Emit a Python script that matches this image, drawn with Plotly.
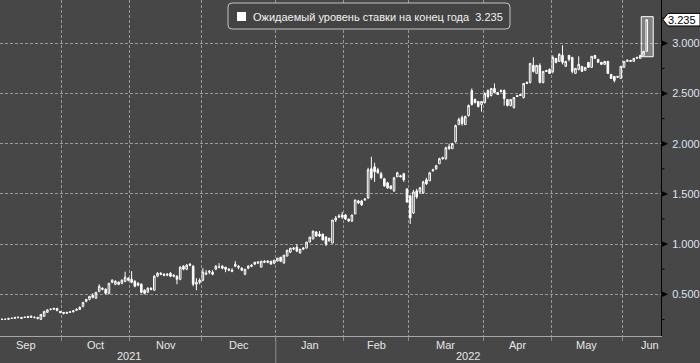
import numpy as np
import pandas as pd
import plotly.graph_objects as go

# ---------------- data ----------------
opens = [0.25, 0.25, 0.25, 0.25, 0.26, 0.26, 0.27, 0.27, 0.27, 0.28, 0.27, 0.27, 0.27, 0.25, 0.28, 0.32, 0.35, 0.35, 0.36, 0.33,
         0.32, 0.31, 0.32, 0.325, 0.34, 0.35, 0.38, 0.43, 0.45, 0.49, 0.46, 0.53, 0.56, 0.55, 0.51, 0.62, 0.60, 0.62, 0.61, 0.63,
         0.66, 0.65, 0.63, 0.61, 0.60, 0.54, 0.52, 0.56, 0.54, 0.68, 0.71, 0.70, 0.69, 0.71, 0.69, 0.68, 0.65, 0.78, 0.75, 0.80,
         0.78, 0.60, 0.62, 0.64, 0.70, 0.72, 0.72, 0.75, 0.77, 0.78, 0.77, 0.75, 0.74, 0.78, 0.78, 0.76, 0.70, 0.76, 0.79, 0.80,
         0.81, 0.77, 0.83, 0.83, 0.83, 0.81, 0.83, 0.87, 0.81, 0.88, 0.92, 0.95, 0.97, 0.91, 0.95, 0.96, 1.02, 1.05, 1.12, 1.10,
         1.10, 1.07, 1.03, 1.01, 1.24, 1.28, 1.29, 1.29, 1.25, 1.23, 1.30, 1.43, 1.43, 1.44, 1.46, 1.75, 1.77, 1.74, 1.70, 1.65,
         1.61, 1.58, 1.53, 1.67, 1.68, 1.70, 1.55, 1.48, 1.31, 1.53, 1.52, 1.51, 1.64, 1.63, 1.73, 1.75, 1.80, 1.85, 1.85, 1.97,
         1.95, 2.02, 2.19, 2.26, 2.19, 2.28, 2.53, 2.44, 2.42, 2.39, 2.41, 2.53, 2.48, 2.55, 2.51, 2.52, 2.53, 2.44, 2.38, 2.36,
         2.48, 2.49, 2.46, 2.61, 2.61, 2.78, 2.70, 2.78, 2.61, 2.73, 2.74, 2.72, 2.85, 2.82, 2.88, 2.77, 2.88, 2.86, 2.70, 2.74,
         2.77, 2.73, 2.81, 2.76, 2.88, 2.84, 2.81, 2.79, 2.82, 2.69, 2.67, 2.66, 2.65, 2.76, 2.82, 2.83, 2.82, 2.85, 2.85, 2.88,
         2.92]
highs = [0.26, 0.26, 0.26, 0.26, 0.27, 0.27, 0.28, 0.27, 0.28, 0.28, 0.29, 0.28, 0.27, 0.30, 0.33, 0.35, 0.36, 0.36, 0.36, 0.33,
         0.32, 0.32, 0.33, 0.34, 0.36, 0.38, 0.42, 0.45, 0.48, 0.51, 0.52, 0.60, 0.57, 0.56, 0.61, 0.65, 0.64, 0.63, 0.65, 0.725,
         0.67, 0.73, 0.64, 0.62, 0.61, 0.55, 0.57, 0.57, 0.69, 0.72, 0.72, 0.71, 0.71, 0.72, 0.70, 0.69, 0.78, 0.79, 0.80, 0.81,
         0.79, 0.66, 0.66, 0.76, 0.74, 0.74, 0.74, 0.79, 0.81, 0.79, 0.77, 0.76, 0.76, 0.83, 0.79, 0.77, 0.75, 0.79, 0.80, 0.82,
         0.83, 0.83, 0.84, 0.84, 0.83, 0.84, 0.86, 0.87, 0.89, 0.94, 0.96, 0.97, 1.00, 0.95, 0.97, 1.02, 1.07, 1.13, 1.13, 1.13,
         1.10, 1.08, 1.06, 1.24, 1.28, 1.30, 1.32, 1.30, 1.25, 1.29, 1.44, 1.44, 1.44, 1.45, 1.76, 1.87, 1.81, 1.76, 1.72, 1.66,
         1.62, 1.58, 1.67, 1.72, 1.69, 1.71, 1.55, 1.49, 1.54, 1.55, 1.57, 1.63, 1.66, 1.72, 1.75, 1.79, 1.86, 1.87, 1.97, 2.00,
         2.01, 2.19, 2.26, 2.28, 2.28, 2.39, 2.55, 2.45, 2.42, 2.42, 2.51, 2.54, 2.55, 2.60, 2.51, 2.54, 2.54, 2.44, 2.44, 2.46,
         2.48, 2.49, 2.60, 2.62, 2.80, 2.86, 2.78, 2.80, 2.72, 2.73, 2.75, 2.88, 2.85, 2.90, 2.98, 2.82, 2.88, 2.86, 2.75, 2.87,
         2.77, 2.76, 2.81, 2.87, 2.88, 2.84, 2.81, 2.82, 2.82, 2.69, 2.67, 2.67, 2.77, 2.82, 2.84, 2.83, 2.85, 2.86, 2.88, 2.92,
         3.235]
lows = [0.25, 0.25, 0.25, 0.25, 0.26, 0.26, 0.26, 0.26, 0.27, 0.27, 0.27, 0.26, 0.25, 0.25, 0.28, 0.32, 0.34, 0.35, 0.33, 0.31,
        0.30, 0.31, 0.32, 0.32, 0.34, 0.35, 0.37, 0.42, 0.44, 0.46, 0.46, 0.52, 0.54, 0.50, 0.50, 0.61, 0.59, 0.59, 0.60, 0.62,
        0.63, 0.61, 0.57, 0.58, 0.51, 0.50, 0.52, 0.54, 0.54, 0.67, 0.69, 0.68, 0.68, 0.67, 0.67, 0.60, 0.64, 0.74, 0.74, 0.78,
        0.58, 0.54, 0.60, 0.63, 0.69, 0.70, 0.69, 0.74, 0.76, 0.75, 0.72, 0.73, 0.72, 0.77, 0.75, 0.73, 0.69, 0.75, 0.77, 0.79,
        0.80, 0.77, 0.81, 0.81, 0.80, 0.80, 0.83, 0.82, 0.81, 0.88, 0.91, 0.94, 0.92, 0.91, 0.94, 0.96, 1.02, 1.05, 1.07, 1.07,
        1.04, 0.98, 1.03, 1.01, 1.22, 1.26, 1.25, 1.24, 1.22, 1.22, 1.30, 1.40, 1.38, 1.43, 1.45, 1.64, 1.62, 1.70, 1.65, 1.57,
        1.55, 1.55, 1.52, 1.67, 1.67, 1.62, 1.41, 1.20, 1.30, 1.45, 1.50, 1.50, 1.59, 1.63, 1.72, 1.74, 1.80, 1.84, 1.84, 1.94,
        1.95, 2.01, 2.19, 2.18, 2.19, 2.27, 2.38, 2.40, 2.36, 2.32, 2.40, 2.45, 2.47, 2.50, 2.49, 2.51, 2.38, 2.37, 2.37, 2.35,
        2.47, 2.48, 2.45, 2.60, 2.60, 2.71, 2.70, 2.60, 2.60, 2.72, 2.70, 2.70, 2.80, 2.82, 2.79, 2.77, 2.82, 2.70, 2.70, 2.73,
        2.72, 2.73, 2.76, 2.76, 2.85, 2.81, 2.79, 2.79, 2.70, 2.65, 2.61, 2.66, 2.65, 2.76, 2.82, 2.82, 2.82, 2.85, 2.85, 2.88,
        2.92]
closes = [0.25, 0.25, 0.25, 0.26, 0.26, 0.27, 0.27, 0.26, 0.27, 0.27, 0.28, 0.27, 0.26, 0.30, 0.33, 0.345, 0.35, 0.36, 0.34, 0.32,
          0.31, 0.32, 0.325, 0.335, 0.35, 0.37, 0.42, 0.45, 0.48, 0.47, 0.52, 0.58, 0.55, 0.51, 0.61, 0.64, 0.63, 0.60, 0.64, 0.67,
          0.64, 0.62, 0.58, 0.59, 0.52, 0.51, 0.56, 0.55, 0.68, 0.71, 0.70, 0.69, 0.70, 0.68, 0.68, 0.65, 0.77, 0.75, 0.79, 0.79,
          0.60, 0.62, 0.64, 0.72, 0.71, 0.73, 0.70, 0.78, 0.77, 0.76, 0.75, 0.74, 0.73, 0.80, 0.77, 0.74, 0.75, 0.78, 0.78, 0.82,
          0.82, 0.83, 0.82, 0.82, 0.80, 0.84, 0.86, 0.83, 0.89, 0.94, 0.96, 0.96, 0.93, 0.95, 0.96, 1.02, 1.07, 1.13, 1.08, 1.08,
          1.04, 1.00, 1.06, 1.24, 1.26, 1.27, 1.27, 1.25, 1.23, 1.29, 1.44, 1.41, 1.39, 1.45, 1.74, 1.66, 1.72, 1.71, 1.66, 1.58,
          1.56, 1.55, 1.66, 1.71, 1.67, 1.64, 1.42, 1.26, 1.52, 1.47, 1.56, 1.62, 1.60, 1.71, 1.74, 1.78, 1.85, 1.86, 1.96, 1.95,
          2.00, 2.18, 2.24, 2.20, 2.27, 2.38, 2.39, 2.41, 2.37, 2.42, 2.50, 2.47, 2.55, 2.51, 2.49, 2.53, 2.45, 2.38, 2.44, 2.46,
          2.47, 2.48, 2.60, 2.60, 2.80, 2.72, 2.78, 2.61, 2.72, 2.72, 2.70, 2.86, 2.81, 2.89, 2.81, 2.82, 2.84, 2.72, 2.75, 2.79,
          2.72, 2.76, 2.76, 2.87, 2.85, 2.81, 2.79, 2.82, 2.70, 2.65, 2.63, 2.67, 2.77, 2.82, 2.83, 2.82, 2.85, 2.86, 2.88, 2.92,
          3.235]
dates = pd.bdate_range("2021-09-03", periods=len(closes))

legend_label = "Ожидаемый уровень ставки на конец года"
month_labels = ["Sep", "Oct", "Nov", "Dec", "Jan", "Feb", "Mar", "Apr", "May", "Jun"]
year_labels = ["2021", "2022"]
y_ticks = [0.5, 1.0, 1.5, 2.0, 2.5, 3.0]
minor_ticks = [0.25, 0.75, 1.25, 1.75, 2.25, 2.75, 3.25]

# ---------------- geometry ----------------
W, H = 700, 363
ML, MR, MT, MB = 0, 39, 0, 27
PW, PH = W - ML - MR, H - MT - MB
BG = "#474747"
GRID = "#9a9a9a"
FONT = "Arial, Liberation Sans, sans-serif"

origin = np.datetime64("2021-09-01")
xi = np.busday_count(origin, dates.values.astype("datetime64[D]"))
month_starts = pd.date_range("2021-09-01", "2022-07-01", freq="MS").values.astype("datetime64[D]")
ms_idx = np.busday_count(origin, month_starts)          # first weekday index of each month
boundaries = ms_idx[1:-1] - 0.5                         # Oct .. Jun boundaries
centers = (ms_idx[:-1] + ms_idx[1:]) / 2.0 - 0.5

XR = [2.38, 206.4]
YR = [0.0847, 3.431]

def px(i):
    return (i - XR[0]) / (XR[1] - XR[0])

def pv(v):
    return (v - YR[0]) / (YR[1] - YR[0])

fig = go.Figure()
fig.add_trace(go.Candlestick(
    x=xi, open=opens, high=highs, low=lows, close=closes,
    increasing=dict(line=dict(color="white", width=1), fillcolor="rgba(0,0,0,0)"),
    decreasing=dict(line=dict(color="white", width=1), fillcolor="white"),
    whiskerwidth=0, showlegend=False, hoverinfo="skip",
))

shapes = []
annots = []

# highlight box around the latest candle
shapes.append(dict(type="rect", xref="x", yref="y", x0=xi[-1] - 1.7, x1=xi[-1] + 2.0,
                   y0=2.866, y1=3.265, fillcolor="rgba(255,255,255,0.30)",
                   line=dict(color="white", width=1), layer="between"))

# right axis: major triangles and minor ticks
tw = 7 / PW
th = 3.2 / PH
for v in y_ticks:
    y = pv(v)
    shapes.append(dict(type="path", xref="paper", yref="paper",
                       path=f"M 1,{y + th} L {1 + tw},{y} L 1,{y - th} Z",
                       fillcolor="black", line=dict(color="black", width=0)))
for v in minor_ticks:
    y = pv(v)
    if y <= 1:
        shapes.append(dict(type="line", xref="paper", yref="paper", x0=1, x1=1 + 3.5 / PW,
                           y0=y, y1=y, line=dict(color="black", width=1)))

# last-value tag
yc = pv(closes[-1])
hh = 6.3 / PH
xl, xk, xr = 1 + 2 / PW, 1 + 7 / PW, (W - ML) / PW
shapes.append(dict(type="path", xref="paper", yref="paper",
                   path=f"M {xl},{yc} L {xk},{yc + hh} L {xr},{yc + hh} L {xr},{yc - hh} L {xk},{yc - hh} Z",
                   fillcolor="white", line=dict(color="black", width=1)))
annots.append(dict(xref="paper", yref="paper", x=1 + 21 / PW, y=yc, text=f"{closes[-1]:.3f}",
                   showarrow=False, xanchor="center", yanchor="middle",
                   font=dict(family=FONT, size=11, color="black")))

# legend box (rounded)
bx0, bx1 = 228 / PW, 510 / PW
by0, by1 = 1 - 29 / PH, 1 - 3 / PH
rx, ry = 4 / PW, 4 / PH
shapes.append(dict(type="path", xref="paper", yref="paper",
                   path=(f"M {bx0 + rx},{by1} L {bx1 - rx},{by1} Q {bx1},{by1} {bx1},{by1 - ry} "
                         f"L {bx1},{by0 + ry} Q {bx1},{by0} {bx1 - rx},{by0} L {bx0 + rx},{by0} "
                         f"Q {bx0},{by0} {bx0},{by0 + ry} L {bx0},{by1 - ry} Q {bx0},{by1} {bx0 + rx},{by1} Z"),
                   fillcolor="#434343", line=dict(color="#c4c4c4", width=1)))
shapes.append(dict(type="rect", xref="paper", yref="paper", x0=237 / PW, x1=246 / PW,
                   y0=1 - 21 / PH, y1=1 - 12 / PH, fillcolor="white", line=dict(width=0)))
annots.append(dict(xref="paper", yref="paper", x=251 / PW, y=1 - 16.5 / PH,
                   text=f"{legend_label}\u00a0\u00a0{closes[-1]:.3f}", showarrow=False,
                   xanchor="left", yanchor="middle",
                   font=dict(family=FONT, size=11, color="#f2f2f2")))

# month & year labels
for k, lab in enumerate(month_labels):
    if lab == "Jun":
        annots.append(dict(xref="paper", yref="paper", x=1.0, y=-9 / PH, text=lab, showarrow=False,
                           xanchor="right", yanchor="middle",
                           font=dict(family=FONT, size=11, color="#e6e6e6")))
    else:
        annots.append(dict(xref="paper", yref="paper", x=px(centers[k]), y=-9 / PH, text=lab,
                           showarrow=False, xanchor="center", yanchor="middle",
                           font=dict(family=FONT, size=11, color="#e6e6e6")))
jan_b = px(boundaries[3])
annots.append(dict(xref="paper", yref="paper", x=129 / PW, y=-20 / PH, text=year_labels[0],
                   showarrow=False, xanchor="center", yanchor="middle",
                   font=dict(family=FONT, size=11, color="#e6e6e6")))
annots.append(dict(xref="paper", yref="paper", x=(jan_b + 1) / 2, y=-20 / PH, text=year_labels[1],
                   showarrow=False, xanchor="center", yanchor="middle",
                   font=dict(family=FONT, size=11, color="#e6e6e6")))
shapes.append(dict(type="line", xref="paper", yref="paper", x0=jan_b, x1=jan_b, y0=0, y1=-MB / PH,
                   line=dict(color="#8a8a8a", width=1)))

fig.update_layout(
    width=W, height=H,
    margin=dict(l=ML, r=MR, t=MT, b=MB, pad=0),
    paper_bgcolor=BG, plot_bgcolor=BG,
    showlegend=False, hovermode=False,
    shapes=shapes, annotations=annots,
    xaxis=dict(range=XR, rangeslider=dict(visible=False), tickmode="array", tickvals=list(boundaries),
               showticklabels=False, ticks="outside", ticklen=4, tickcolor="#8a8a8a",
               showgrid=True, gridcolor=GRID, griddash="3px,2px", gridwidth=1,
               showline=True, linecolor="#a8a8a8", linewidth=1, zeroline=False, fixedrange=True),
    yaxis=dict(range=YR, side="right", tickmode="array", tickvals=y_ticks, tickformat=".3f",
               ticks="", ticklabelstandoff=8,
               tickfont=dict(family=FONT, size=11, color="#dbe5f3"),
               showgrid=True, gridcolor=GRID, griddash="3px,2px", gridwidth=1,
               showline=True, linecolor="black", linewidth=1, zeroline=False, fixedrange=True),
)

fig.write_html("out.html",
               config={"displayModeBar": False, "staticPlot": True},
               post_script="document.body.style.margin='0';document.body.style.padding='0';"
                           "document.body.style.overflow='hidden';document.body.style.background='" + BG + "';")
